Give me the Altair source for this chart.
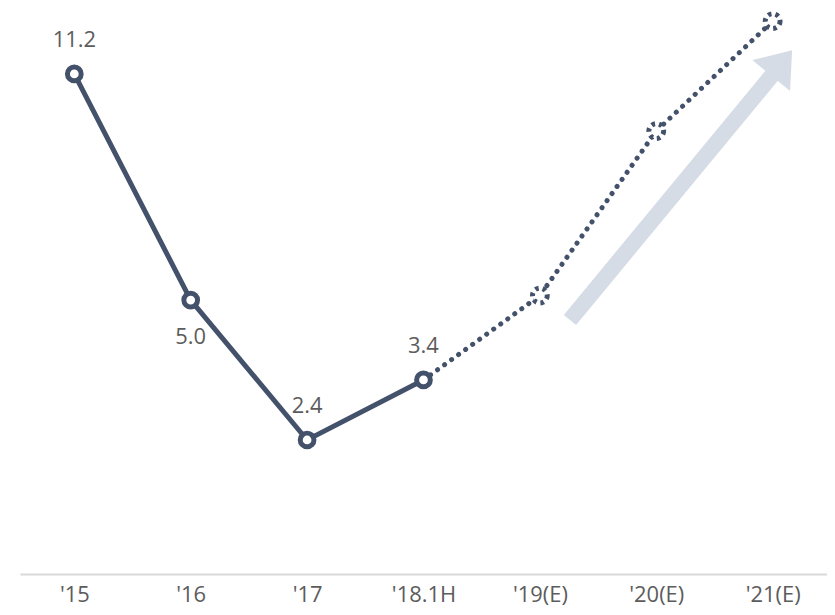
import altair as alt
import pandas as pd

categories = ["'15", "'16", "'17", "'18.1H", "'19(E)", "'20(E)", "'21(E)"]
values = [11.2, 5.0, 2.4, 3.4, 5.1, 9.4, 13.0]
actual = [True, True, True, True, False, False, False]
labels = ["11.2", "5.0", "2.4", "3.4", "", "", ""]

df = pd.DataFrame({"cat": categories, "value": values, "actual": actual, "label": labels})
dotted = df.iloc[3:].copy()
solid = df.iloc[:4].copy()

LINE = "#44516a"
FONT = "Open Sans"
TXT = "#5c5c5c"

x = alt.X("cat:N", sort=categories, scale=alt.Scale(type="point", padding=0.467),
          axis=alt.Axis(title=None, labelFont=FONT, labelFontSize=22, labelColor=TXT,
                        ticks=False, domainColor="#d9d9d9", domainWidth=2, labelPadding=11,
                        labelAngle=0, grid=False))
y = alt.Y("value:Q", scale=alt.Scale(type="sqrt", domain=[0.794, 13.43], zero=False, nice=False),
          axis=None)

base = alt.Chart(df)

arrow_shaft = alt.Chart(pd.DataFrame({"a": [0]})).mark_rule(
    color="#d6dce6", strokeWidth=16, strokeCap="butt"
).encode(x=alt.value(552), y=alt.value(312), x2=alt.value(756), y2=alt.value(65))

arrow_head = alt.Chart(pd.DataFrame({"a": [0]})).mark_point(
    shape="M-0.742,0.5L0.742,0.5L0,-0.5Z", size=4356, filled=True, opacity=1,
    color="#d6dce6", angle=39.5
).encode(x=alt.value(764.5), y=alt.value(54))

solid_line = alt.Chart(solid).mark_line(color=LINE, strokeWidth=5).encode(x=x, y=y)
dotted_line = alt.Chart(dotted).mark_line(
    color=LINE, strokeWidth=5, strokeDash=[0.1, 8.6], strokeCap="round"
).encode(x=x, y=y)

pts_actual = base.transform_filter("datum.actual").mark_point(
    shape="circle", size=190, filled=False, fill="white", fillOpacity=1,
    stroke=LINE, strokeWidth=5, opacity=1
).encode(x=x, y=y)

pts_est = base.transform_filter("!datum.actual").mark_point(
    shape="circle", size=220, filled=False, fill="white", fillOpacity=1,
    stroke=LINE, strokeWidth=5, strokeDash=[3.5, 4], opacity=1
).encode(x=x, y=y)

lbl_above = base.transform_filter("datum.actual && datum.cat != \"'16\"").mark_text(
    font=FONT, fontSize=22, color=TXT, dy=-34
).encode(x=x, y=y, text="label:N")

lbl_below = base.transform_filter("datum.cat == \"'16\"").mark_text(
    font=FONT, fontSize=22, color=TXT, dy=37
).encode(x=x, y=y, text="label:N")

chart = alt.layer(
    arrow_shaft, arrow_head, solid_line, dotted_line, pts_actual, pts_est, lbl_above, lbl_below
).properties(
    width=810, height=567,
    padding={"left": 12, "top": 0, "right": 0, "bottom": 38},
    autosize=alt.AutoSizeParams(type="none"),
).configure_view(stroke=None)

chart.save("out.html", embed_options={"renderer": "svg", "actions": False})
